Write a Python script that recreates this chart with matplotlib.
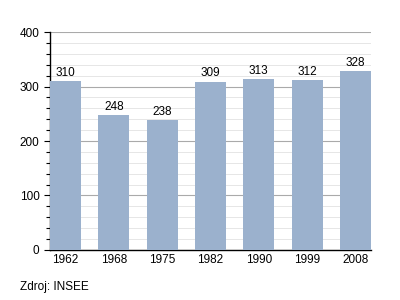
import matplotlib
matplotlib.use("Agg")
import matplotlib.pyplot as plt
from matplotlib.ticker import MultipleLocator

roky = ["1962", "1968", "1975", "1982", "1990", "1999", "2008"]
obyvatele = [310, 248, 238, 309, 313, 312, 328]

plt.rcParams['font.family'] = ['Liberation Sans', 'DejaVu Sans']
fs = 8.5

fig = plt.figure(figsize=(4, 3), dpi=100)
ax = fig.add_axes([0.125, 0.1667, 0.8025, 0.7266])

x = range(len(roky))
ax.bar(x, obyvatele, width=0.64, color='#9bb1cd', zorder=3)
for i, v in zip(x, obyvatele):
    ax.text(i, v + 4, str(v), ha='center', va='bottom', fontsize=fs, zorder=4)

ax.set_xlim(-0.32, len(roky) - 0.68)
ax.set_ylim(0, 400)
ax.set_xticks(list(x))
ax.set_xticklabels(roky, fontsize=fs)
ax.yaxis.set_major_locator(MultipleLocator(100))
ax.yaxis.set_minor_locator(MultipleLocator(20))
ax.tick_params(axis='y', labelsize=fs, length=4, width=0.8)
ax.tick_params(axis='y', which='minor', length=3, width=0.8)
ax.tick_params(axis='x', length=0, pad=3)
ax.grid(which='major', axis='y', color='#aaaaaa', linewidth=0.8, zorder=0)
ax.grid(which='minor', axis='y', color='#e2e2e2', linewidth=0.6, zorder=0)
for s in ['top', 'right']:
    ax.spines[s].set_visible(False)
ax.spines['left'].set_linewidth(1.0)
ax.spines['bottom'].set_linewidth(1.0)

fig.text(0.05, 0.033, "Zdroj: INSEE", fontsize=fs)

fig.savefig("out.png", dpi=100)
